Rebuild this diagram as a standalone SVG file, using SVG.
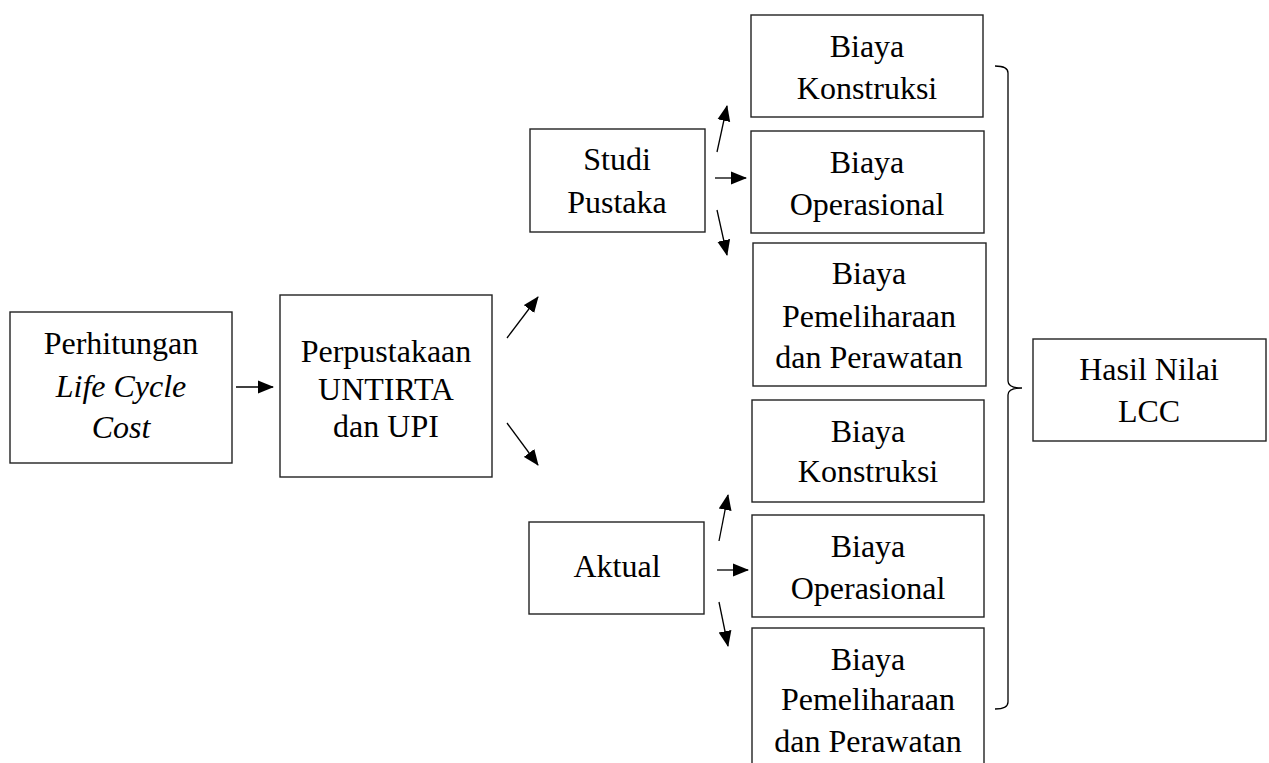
<svg xmlns="http://www.w3.org/2000/svg" width="1269" height="763" viewBox="0 0 1269 763">
<style>
.box{fill:#fff;stroke:#222;stroke-width:1.4}
text{font-family:'Liberation Serif','Tinos','Times New Roman','DejaVu Serif',serif;font-size:32px;fill:#000;text-anchor:middle}
.i{font-style:italic}
.c{stroke:#000;stroke-width:1.3;fill:none}
</style>
<defs>
<marker id="ah" markerUnits="userSpaceOnUse" markerWidth="16" markerHeight="14" refX="15" refY="7" orient="auto">
<path d="M0,0.5 L16,7 L0,13.5 z" fill="#000"/>
</marker>
</defs>
<rect width="1269" height="763" fill="#fff"/>
<g id="connectors">
<line class="c" x1="236" y1="387" x2="273" y2="387" marker-end="url(#ah)"/>
<line class="c" x1="507" y1="338" x2="538" y2="297" marker-end="url(#ah)"/>
<line class="c" x1="507" y1="423" x2="538" y2="465" marker-end="url(#ah)"/>
<line class="c" x1="717" y1="152" x2="727" y2="106" marker-end="url(#ah)"/>
<line class="c" x1="715" y1="178" x2="746" y2="178" marker-end="url(#ah)"/>
<line class="c" x1="717" y1="210" x2="727" y2="255" marker-end="url(#ah)"/>
<line class="c" x1="719" y1="541" x2="728" y2="495" marker-end="url(#ah)"/>
<line class="c" x1="717" y1="570" x2="748" y2="570" marker-end="url(#ah)"/>
<line class="c" x1="719" y1="602" x2="728" y2="646" marker-end="url(#ah)"/>
<path class="c" d="M995,66 Q1008,66 1008,73 L1008,381 Q1008,388 1022,388 Q1008,388 1008,395 L1008,702 Q1008,709 995,709"/>
</g>
<g id="perhitungan" font-family="Liberation Serif, serif">
<rect class="box" x="10" y="312" width="222" height="151"/>
<text x="121" y="354">Perhitungan</text>
<text class="i" x="121" y="397">Life Cycle</text>
<text class="i" x="121" y="438">Cost</text>
</g>
<g id="perpustakaan">
<rect class="box" x="280" y="295" width="212" height="182"/>
<text x="386" y="362">Perpustakaan</text>
<text x="386" y="400">UNTIRTA</text>
<text x="386" y="437">dan UPI</text>
</g>
<g id="studi-pustaka">
<rect class="box" x="530" y="129" width="175" height="103"/>
<text x="617" y="170">Studi</text>
<text x="617" y="213">Pustaka</text>
</g>
<g id="aktual">
<rect class="box" x="529" y="522" width="175" height="92"/>
<text x="617" y="577">Aktual</text>
</g>
<g id="a-konstruksi">
<rect class="box" x="751" y="15" width="232" height="102"/>
<text x="867" y="57">Biaya</text>
<text x="867" y="99">Konstruksi</text>
</g>
<g id="a-operasional">
<rect class="box" x="751" y="131" width="233" height="102"/>
<text x="867" y="173">Biaya</text>
<text x="867" y="215">Operasional</text>
</g>
<g id="a-pemeliharaan">
<rect class="box" x="753" y="243" width="233" height="143"/>
<text x="869" y="284">Biaya</text>
<text x="869" y="327">Pemeliharaan</text>
<text x="869" y="368">dan Perawatan</text>
</g>
<g id="b-konstruksi">
<rect class="box" x="752" y="400" width="232" height="102"/>
<text x="868" y="442">Biaya</text>
<text x="868" y="482">Konstruksi</text>
</g>
<g id="b-operasional">
<rect class="box" x="752" y="515" width="232" height="102"/>
<text x="868" y="557">Biaya</text>
<text x="868" y="599">Operasional</text>
</g>
<g id="b-pemeliharaan">
<rect class="box" x="752" y="628" width="232" height="160"/>
<text x="868" y="670">Biaya</text>
<text x="868" y="710">Pemeliharaan</text>
<text x="868" y="752">dan Perawatan</text>
</g>
<g id="hasil">
<rect class="box" x="1033" y="339" width="233" height="102"/>
<text x="1149" y="380">Hasil Nilai</text>
<text x="1149" y="422">LCC</text>
</g>
</svg>
